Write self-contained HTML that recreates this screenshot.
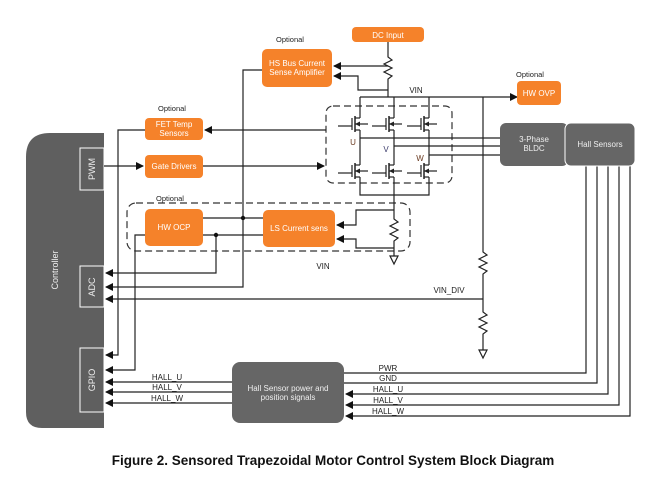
<!DOCTYPE html>
<html><head><meta charset="utf-8"><style>
body{margin:0;background:#fff}
svg{display:block;font-family:"Liberation Sans",Arial,sans-serif}
</style></head><body>
<svg width="668" height="484" viewBox="0 0 668 484" xmlns="http://www.w3.org/2000/svg">
<defs>
<marker id="a" markerWidth="8" markerHeight="8" refX="7" refY="4" orient="auto" markerUnits="userSpaceOnUse"><path d="M0,0 L8,4 L0,8 z" fill="#111"/></marker>
<g id="fet">
<line x1="0" y1="-9" x2="0" y2="-6" stroke="#222" stroke-width="1.2"/>
<line x1="0" y1="-6" x2="-5" y2="-6" stroke="#222" stroke-width="1.2"/>
<line x1="0" y1="6" x2="-5" y2="6" stroke="#222" stroke-width="1.2"/>
<line x1="0" y1="6" x2="0" y2="9" stroke="#222" stroke-width="1.2"/>
<line x1="-5" y1="-8" x2="-5" y2="8" stroke="#222" stroke-width="1.5"/>
<line x1="-8" y1="-6" x2="-8" y2="6" stroke="#222" stroke-width="1.2"/>
<line x1="-8" y1="2" x2="-22" y2="2" stroke="#222" stroke-width="1.2"/>
<line x1="-5" y1="0" x2="8" y2="0" stroke="#222" stroke-width="1.2"/>
<path d="M-5,0 L0,-2.5 L0,2.5 z" fill="#222"/>
</g>
</defs>
<path d="M50,133 H104 V428 H42 Q26,428 26,412 V157 Q26,133 50,133 Z" fill="#5f5f5f"/>
<rect x="80" y="148" width="24" height="42" fill="#5f5f5f" stroke="#fff" stroke-width="1"/>
<rect x="80" y="266" width="24" height="41" fill="#5f5f5f" stroke="#fff" stroke-width="1"/>
<rect x="80" y="348" width="24" height="64" fill="#5f5f5f" stroke="#fff" stroke-width="1"/>
<g fill="#eee" font-size="9" text-anchor="middle">
<text transform="translate(58,270) rotate(-90)">Controller</text>
<text transform="translate(95,169) rotate(-90)">PWM</text>
<text transform="translate(95,287) rotate(-90)">ADC</text>
<text transform="translate(95,380) rotate(-90)">GPIO</text>
</g>

<rect x="127" y="203" width="283" height="48" rx="9" fill="none" stroke="#333" stroke-width="1.2" stroke-dasharray="7,4"/>
<rect x="326" y="106" width="126" height="77" rx="7" fill="none" stroke="#333" stroke-width="1.2" stroke-dasharray="7,4"/>

<g fill="none" stroke="#222" stroke-width="1.2">
<path d="M388,42 V57 l4,3 l-8,4 l8,4 l-8,4 l8,4 l-4,3 V97"/>
<path d="M388,66 H334" marker-end="url(#a)"/>
<path d="M388,90 H358 V76 H334" marker-end="url(#a)"/>
<path d="M360,97 H517" marker-end="url(#a)"/>
<path d="M360,97 V115 M394,97 V115 M429,97 V115"/>
<path d="M360,133 V162 M394,133 V162 M429,133 V162"/>
<path d="M360,180 V195 H429 V180 M394,180 V195"/>
<path d="M360,138 H500 M394,146 H500 M429,155 H500"/>
<path d="M394,195 V219 l4,3 l-8,4 l8,4 l-8,4 l8,4 l-4,3 V256"/>
<path d="M394,256 l-4,0 l4,8 l4,-8 z"/>
<path d="M394,210 H356 V225 H337" marker-end="url(#a)"/>
<path d="M394,248 H356 V239 H337" marker-end="url(#a)"/>
<path d="M483,97 V252 l4,3 l-8,4 l8,4 l-8,4 l8,4 l-4,3 V312 l4,3 l-8,4 l8,4 l-8,4 l8,4 l-4,3 V350"/>
<path d="M483,350 l-4,0 l4,8 l4,-8 z"/>
<path d="M483,299 H106" marker-end="url(#a)"/>
<path d="M326,130 H205" marker-end="url(#a)"/>
<path d="M104,166 H143" marker-end="url(#a)"/>
<path d="M203,166 H324" marker-end="url(#a)"/>
<path d="M145,130 H118 V355 H106" marker-end="url(#a)"/>
<path d="M262,70 H243 V287 H106" marker-end="url(#a)"/>
<path d="M203,218 H263"/>
<path d="M203,235 H263"/>
<path d="M216,235 V273 H106" marker-end="url(#a)"/>
<path d="M145,235 H135 V370 H106" marker-end="url(#a)"/>
<path d="M232,382 H106" marker-end="url(#a)"/>
<path d="M232,392 H106" marker-end="url(#a)"/>
<path d="M232,403 H106" marker-end="url(#a)"/>
<path d="M344,373 H586 V166"/>
<path d="M344,383 H597 V166"/>
<path d="M608,166 V394 H346" marker-end="url(#a)"/>
<path d="M619,166 V405 H346" marker-end="url(#a)"/>
<path d="M630,166 V416 H346" marker-end="url(#a)"/>
</g>
<circle cx="243" cy="218" r="2.2" fill="#111"/>
<circle cx="216" cy="235" r="2.2" fill="#111"/>

<use href="#fet" x="360" y="124"/><use href="#fet" x="394" y="124"/><use href="#fet" x="429" y="124"/>
<use href="#fet" x="360" y="171"/><use href="#fet" x="394" y="171"/><use href="#fet" x="429" y="171"/>

<g fill="#f5822a">
<rect x="352" y="27" width="72" height="15" rx="4"/>
<rect x="262" y="49" width="70" height="38" rx="5"/>
<rect x="145" y="118" width="58" height="22" rx="4"/>
<rect x="145" y="155" width="58" height="23" rx="4"/>
<rect x="145" y="209" width="58" height="37" rx="5"/>
<rect x="263" y="210" width="72" height="37" rx="5"/>
<rect x="517" y="81" width="44" height="24" rx="4"/>
</g>
<g fill="#fff" font-size="8" text-anchor="middle">
<text x="388" y="38">DC Input</text>
<text x="297" y="66">HS Bus Current</text>
<text x="297" y="75">Sense Amplifier</text>
<text x="174" y="127">FET Temp</text>
<text x="174" y="136">Sensors</text>
<text x="174" y="169">Gate Drivers</text>
<text x="174" y="230">HW OCP</text>
<text x="299" y="231">LS Current sens</text>
<text x="539" y="96">HW OVP</text>
</g>
<rect x="500" y="123" width="68" height="43" rx="6" fill="#666"/>
<rect x="565" y="123" width="70" height="43" rx="6" fill="#666" stroke="#fff" stroke-width="1"/>
<rect x="232" y="362" width="112" height="61" rx="8" fill="#666"/>
<g fill="#eee" font-size="8" text-anchor="middle">
<text x="534" y="142">3-Phase</text>
<text x="534" y="151">BLDC</text>
<text x="600" y="147">Hall Sensors</text>
<text x="288" y="391">Hall Sensor power and</text>
<text x="288" y="400">position signals</text>
</g>
<g fill="#222" font-size="7.5" text-anchor="middle">
<text x="290" y="42">Optional</text>
<text x="172" y="111">Optional</text>
<text x="170" y="201">Optional</text>
<text x="530" y="77">Optional</text>
</g>
<g fill="#222" font-size="8" text-anchor="middle">
<text x="416" y="93">VIN</text>
<text x="323" y="269">VIN</text>
<text x="449" y="293">VIN_DIV</text>
<text x="353" y="145" fill="#6a3a20">U</text>
<text x="386" y="152" fill="#3a3a6a">V</text>
<text x="420" y="161" fill="#6a3a20">W</text>
<text x="167" y="380">HALL_U</text>
<text x="167" y="390">HALL_V</text>
<text x="167" y="401">HALL_W</text>
<text x="388" y="371">PWR</text>
<text x="388" y="381">GND</text>
<text x="388" y="392">HALL_U</text>
<text x="388" y="403">HALL_V</text>
<text x="388" y="414">HALL_W</text>
</g>
<text x="333" y="465" font-size="13.5" font-weight="bold" text-anchor="middle" fill="#111">Figure 2. Sensored Trapezoidal Motor Control System Block Diagram</text>
</svg>
</body></html>
